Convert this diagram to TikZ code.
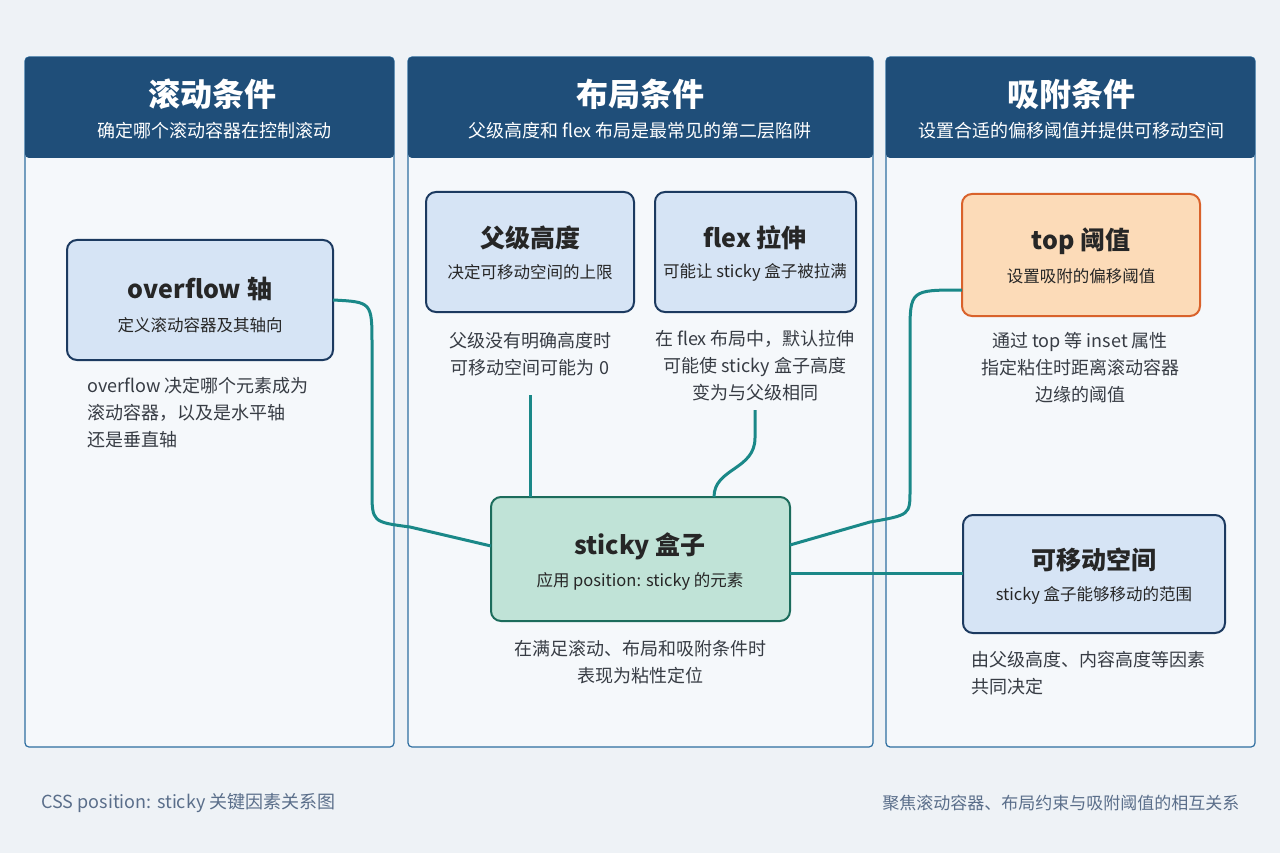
\documentclass[tikz,border=0pt]{standalone}
\usepackage{fontspec}
\setmainfont{Noto Sans CJK SC}
\usetikzlibrary{positioning}
\definecolor{bgc}{RGB}{238,242,246}
\definecolor{panelc}{RGB}{245,248,251}
\definecolor{headc}{RGB}{31,78,121}
\definecolor{framec}{RGB}{46,110,160}
\definecolor{bluefill}{RGB}{214,228,245}
\definecolor{navy}{RGB}{28,58,96}
\definecolor{orangefill}{RGB}{252,219,184}
\definecolor{orangec}{RGB}{217,98,43}
\definecolor{greenfill}{RGB}{192,227,215}
\definecolor{greenc}{RGB}{28,108,92}
\definecolor{teal}{RGB}{26,136,136}
\definecolor{textc}{RGB}{55,60,68}
\definecolor{footc}{RGB}{90,110,138}
\tikzset{
  panel/.style={draw=framec, line width=1.2pt, fill=panelc, rounded corners=4pt},
  head/.style={fill=headc, rounded corners=4pt},
  box/.style={draw=navy, line width=2pt, fill=bluefill, rounded corners=10pt},
  htitle/.style={text=white, font=\bfseries\fontsize{32}{36}\selectfont},
  hsub/.style={text=white, font=\fontsize{18}{21}\selectfont},
  btitle/.style={text=black!85, font=\bfseries\fontsize{25}{29}\selectfont},
  bsub/.style={text=black!85, font=\fontsize{16.5}{19}\selectfont},
  note/.style={text=textc, font=\fontsize{18}{27}\selectfont, align=center},
  link/.style={draw=teal, line width=3pt}
}
\begin{document}
\begin{tikzpicture}[x=1pt,y=-1pt]
\useasboundingbox[fill=bgc] (0,0) rectangle (1280,853);
% panels
\draw[panel] (25,57) rectangle (394,747);
\draw[panel] (408,57) rectangle (873,747);
\draw[panel] (886,57) rectangle (1255,747);
\path[head] (25,57) rectangle (394,158);
\path[head] (408,57) rectangle (873,158);
\path[head] (886,57) rectangle (1255,158);
\node[htitle] (h1) at (212,94) {滚动条件};
\node[hsub] (s1) at (214,131) {确定哪个滚动容器在控制滚动};
\node[htitle] (h2) at (640,94) {布局条件};
\node[hsub] (s2) at (640,131) {父级高度和 flex 布局是最常见的第二层陷阱};
\node[htitle] (h3) at (1071,94) {吸附条件};
\node[hsub] (s3) at (1071,131) {设置合适的偏移阈值并提供可移动空间};

% boxes
\draw[box] (67,240) rectangle (333,360);
\node[btitle] (ovt) at (200,289) {overflow 轴};
\node[bsub] (ovs) at (200,325) {定义滚动容器及其轴向};
\draw[box] (426,192) rectangle (634,312);
\node[btitle] (pht) at (530,238) {父级高度};
\node[bsub] (phs) at (530,272) {决定可移动空间的上限};
\draw[box] (655,192) rectangle (856,312);
\node[btitle] (flt) at (755,238) {flex 拉伸};
\node[bsub] (fls) at (755,272) {可能让 sticky 盒子被拉满};
\draw[box, draw=orangec, fill=orangefill] (962,194) rectangle (1200,316);
\node[btitle] (tpt) at (1081,241) {top 阈值};
\node[bsub] (tps) at (1081,276) {设置吸附的偏移阈值};
\draw[box, draw=greenc, fill=greenfill] (491,497) rectangle (790,621);
\node[btitle] (skt) at (640,546) {sticky 盒子};
\node[bsub] (sks) at (640,581) {应用 position: sticky 的元素};
\draw[box] (963,515) rectangle (1225,633);
\node[btitle] (mvt) at (1094,560) {可移动空间};
\node[bsub] (mvs) at (1094,595) {sticky 盒子能够移动的范围};

% notes
\node[note, align=left, anchor=north west] (n1) at (84,374) {overflow 决定哪个元素成为\\滚动容器，以及是水平轴\\还是垂直轴};
\node[note, anchor=north] (n2) at (530,329) {父级没有明确高度时\\可移动空间可能为 0};
\node[note, anchor=north] (n3) at (755,327) {在 flex 布局中，默认拉伸\\可能使 sticky 盒子高度\\变为与父级相同};
\node[note, anchor=north] (n4) at (1080,329) {通过 top 等 inset 属性\\指定粘住时距离滚动容器\\边缘的阈值};
\node[note, anchor=north] (n5) at (640,637) {在满足滚动、布局和吸附条件时\\表现为粘性定位};
\node[note, align=left, anchor=north west] (n6) at (968,648) {由父级高度、内容高度等因素\\共同决定};

% connectors
\coordinate (ovE) at (333,300);
\coordinate (skW) at (491,546);
\coordinate (phB) at (530,395);
\coordinate (skPH) at (530,497);
\coordinate (flB) at (755,410);
\coordinate (skFL) at (714,497);
\coordinate (tpW) at (962,290);
\coordinate (skE) at (790,545);
\coordinate (skE2) at (790,573);
\coordinate (mvW) at (963,573);
\draw[link] (ovE) .. controls (372,302) .. (372,345) -- (372,490) .. controls (372,522) .. (410,527) -- (skW);
\draw[link] (phB) -- (skPH);
\draw[link] (flB) -- (755,438) .. controls (755,470) and (714,468) .. (skFL);
\draw[link] (tpW) .. controls (910,290) .. (910,335) -- (910,490) .. controls (910,515) .. (870,522) -- (skE);
\draw[link] (skE2) -- (mvW);

% footer
\node[text=footc, font=\fontsize{18}{21}\selectfont, anchor=west] (f1) at (38,803) {CSS position: sticky 关键因素关系图};
\node[text=footc, font=\fontsize{17}{20}\selectfont, anchor=east] (f2) at (1243,803) {聚焦滚动容器、布局约束与吸附阈值的相互关系};
\end{tikzpicture}
\end{document}
